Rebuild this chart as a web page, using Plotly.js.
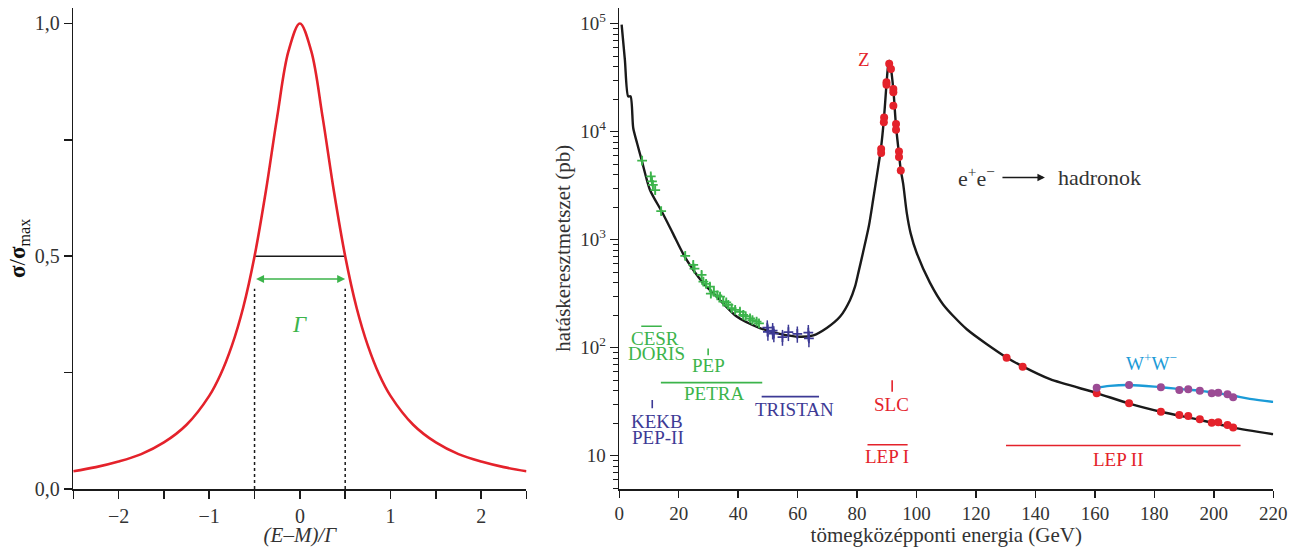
<!DOCTYPE html>
<html>
<head>
<meta charset="utf-8">
<script src="https://cdn.plot.ly/plotly-3.0.1.min.js"></script>
<style>html,body{margin:0;padding:0;background:#fff;}#chart{width:1292px;height:547px;}</style>
</head>
<body>
<div id="chart"></div>
<script>
// ---------- Left panel: Breit–Wigner resonance shape ----------
const bwX = [-2.5,-2.25,-2,-1.75,-1.5,-1.25,-1,-0.875,-0.75,-0.625,-0.5,-0.375,-0.25,-0.125,0,0.125,0.25,0.375,0.5,0.625,0.75,0.875,1,1.25,1.5,1.75,2,2.25,2.5];
const bwY = [0.038,0.047,0.059,0.075,0.100,0.138,0.200,0.246,0.308,0.390,0.500,0.640,0.800,0.941,1.000,0.941,0.800,0.640,0.500,0.390,0.308,0.246,0.200,0.138,0.100,0.075,0.059,0.047,0.038];
const halfMaxX = [-0.5, 0.5];
const halfMaxY = [0.5, 0.5];
const dropTop = 0.43;
const leftTickVals = [-2,-1,0,1,2];
const leftTickText = ['−2','−1','0','1','2'];
const leftMinorVals = [-2.5,-1.5,-0.5,0.5,1.5,2.5];
const leftYTickVals = [0,0.5,1];
const leftYTickText = ['0,0','0,5','1,0'];
const leftYMinorVals = [0.25,0.75];

// ---------- Right panel: e+e- -> hadrons cross section ----------
const sigE = [0.8,1.9,3.0,3.8,4.7,6.0,7.5,10.3,14.3,18,22.1,28.3,32.8,39.5,47.3,54,60.8,65.3,69.8,74.3,77.6,79.3,80.4,82,84,85.4,87,88,89,89.9,90.4,90.8,91.3,92.2,93.1,94.1,94.7,95.5,96.7,98,100,104.5,109,116.9,130.3,135.7,144.9,160.6,171.3,182.2,195.3,206.5,220];
const sigV = [98000,46000,21200,21200,10800,7800,5500,2900,1820,1150,690,395,296,194,152,134,126,130,152,194,275,367,490,760,1350,2340,4500,6900,12800,27800,40000,45500,40000,24500,11200,6200,4400,3300,1780,1150,760,400,250,148,81,67,51,38,30.5,25.5,21.4,18.2,15.8];

const wwE = [160.6,165,171.5,182.2,189,195.3,200,206.5,212.1,220];
const wwV = [42.6,44.3,45.1,43.0,41.3,39.9,38.3,35.9,33.5,31.5];

const zE = [90.8,91.4,89.9,89.9,92.2,92.2,92.2,89.1,89.0,93.1,93.1,88.1,88.1,94.1,94.1,94.7];
const zV = [42600,38000,28600,27200,24800,23100,17400,13500,12200,11800,10400,6900,6340,6560,5820,4370];

const lep2E = [130.3,135.7,160.6,171.5,182.2,188.4,191.4,195.3,199.3,201.5,204.6,206.5];
const lep2V = [80.7,66.7,37.8,30.5,25.5,23.8,23.3,21.7,20.2,20.4,19.2,18.2];

const wwPtE = [160.6,171.5,182.2,188.4,191.4,195.3,199.3,201.5,204.6,206.5];
const wwPtV = [42.6,45.1,43.0,40.6,41.1,39.9,37.8,38.3,37.0,34.7];

const lowE = [7.7,10.6,11.0,11.3,12.1,14.1,22.2,24.9,25.3,27.7,28.3,29.2,30.5,30.8,31.8,33.0,33.9,35.0,36.0,36.7,37.8,39.0,40.6,41.7,42.5,44.0,44.8,46.2,47.0];
const lowV = [5400,3850,3460,3220,2880,1840,708,585,540,472,409,390,368,317,330,305,297,267,262,249,232,224,215,201,196,187,180,174,168];
const lowErr = [450,320,290,270,240,150,60,50,46,40,35,33,31,27,28,26,25,23,22,21,20,19,18,17,17,16,15,15,14];

const tristanE = [49.8,50.0,51.6,52.0,54.9,56.9,59.9,63.6,63.8];
const tristanV = [153,140,144,135,125,139,134,138,122];
const tristanErr = [26,24,25,23,21,24,23,24,21];

const rangeNames = ['CESR','PETRA','TRISTAN','LEP I','LEP II'];
const rangeFrom = [7.4,14.0,47.9,83.5,130.1];
const rangeTo = [14.3,48.1,67.2,97.0,209.0];
const rangeLevel = [158,47.4,35.2,12.6,12.4];
const pointNames = ['PEP','KEKB','SLC'];
const pointE = [29.9,11.1,91.8];
const pointLow = [85,27.5,39];
const pointHigh = [98,32.7,50];

const yTickVals = [10,100,1000,10000,100000];
const yTickText = ['10','10<sup>2</sup>','10<sup>3</sup>','10<sup>4</sup>','10<sup>5</sup>'];

// ---------- styling ----------
const FONT = 'Liberation Serif, Times New Roman, serif';
const TXT = '#333333';
const RED = '#e4222b';
const GREEN = '#3cb44b';
const NAVY = '#3d3a95';
const BLUE = '#1b9bd7';
const PURPLE = '#9b4b94';
const BLACK = '#1a1a1a';

const colorOf = {CESR:GREEN, PETRA:GREEN, TRISTAN:NAVY, 'LEP I':RED, 'LEP II':RED, PEP:GREEN, KEKB:NAVY, SLC:RED};

function segTrace(xs0, xs1, ys0, ys1, names, col) {
  const x = [], y = [];
  names.forEach((n, i) => {
    if (colorOf[n] !== col) return;
    x.push(xs0[i], xs1[i], null);
    y.push(ys0[i], ys1[i], null);
  });
  return {x, y, xaxis:'x2', yaxis:'y2', mode:'lines', line:{color:col, width:1.6}, hoverinfo:'skip', connectgaps:false};
}

const traces = [];
// left
traces.push({x: halfMaxX, y: halfMaxY, mode:'lines', line:{color:BLACK, width:1.6}, xaxis:'x', yaxis:'y'});
traces.push({x: [halfMaxX[0], halfMaxX[0], null, halfMaxX[1], halfMaxX[1]], y: [0, dropTop, null, 0, dropTop], mode:'lines', line:{color:BLACK, width:1.5, dash:'dot'}, xaxis:'x', yaxis:'y', connectgaps:false});
traces.push({x: bwX, y: bwY, mode:'lines', line:{color:RED, width:2.6, shape:'spline', smoothing:1}, xaxis:'x', yaxis:'y'});

// right
traces.push({x: sigE, y: sigV, mode:'lines', line:{color:BLACK, width:2.4, shape:'spline', smoothing:0.7}, xaxis:'x2', yaxis:'y2'});
traces.push({x: wwE, y: wwV, mode:'lines', line:{color:BLUE, width:2.4, shape:'spline', smoothing:1}, xaxis:'x2', yaxis:'y2'});
traces.push({x: lowE, y: lowV, mode:'markers', marker:{symbol:'cross-thin', size:7, line:{color:GREEN, width:1.8}, color:GREEN},
  error_y:{type:'data', array: lowErr, color:GREEN, thickness:1.5, width:0}, xaxis:'x2', yaxis:'y2'});
traces.push({x: tristanE, y: tristanV, mode:'markers', marker:{symbol:'cross-thin', size:7, line:{color:NAVY, width:1.8}, color:NAVY},
  error_y:{type:'data', array: tristanErr, color:NAVY, thickness:1.5, width:0}, xaxis:'x2', yaxis:'y2'});
traces.push({x: zE, y: zV, mode:'markers', marker:{color:RED, size:8}, xaxis:'x2', yaxis:'y2'});
traces.push({x: lep2E, y: lep2V, mode:'markers', marker:{color:RED, size:8}, xaxis:'x2', yaxis:'y2'});
traces.push({x: wwPtE, y: wwPtV, mode:'markers', marker:{color:PURPLE, size:8}, xaxis:'x2', yaxis:'y2'});
[GREEN, NAVY, RED].forEach(c => {
  traces.push(segTrace(rangeFrom, rangeTo, rangeLevel, rangeLevel, rangeNames, c));
  traces.push(segTrace(pointE, pointE, pointLow, pointHigh, pointNames, c));
});

// minor ticks on log axis
const minorVals = [];
for (let d = 0; d <= 5; d++) for (let m = 2; m <= 9; m++) minorVals.push(m * Math.pow(10, d));

const axisCommon = {
  showline:true, linecolor:BLACK, linewidth:1.6, ticks:'outside', tickcolor:BLACK, tickwidth:1.5,
  showgrid:false, zeroline:false, tickfont:{family:FONT, size:19, color:TXT}, fixedrange:true
};

function lab(text, x, y, color, size) {
  return {text, x, y, xref:'x2', yref:'y2', showarrow:false, font:{family:FONT, size:size||19, color}, xanchor:'center', yanchor:'middle'};
}

const annotations = [
  // left panel
  {text:'<i>Γ</i>', x:0, y:0.353, xref:'x', yref:'y', showarrow:false, font:{family:FONT, size:23, color:GREEN}},
  {text:'', x:halfMaxX[1], y:0.451, ax:halfMaxX[0], ay:0.451, xref:'x', yref:'y', axref:'x', ayref:'y',
   showarrow:true, arrowhead:2, arrowside:'end+start', arrowsize:1, arrowwidth:1.6, arrowcolor:GREEN, standoff:0, startstandoff:0},
  // right panel labels (log axis: y in log10 units)
  lab('Z', 82.4, 4.667, RED),
  lab('CESR', 12.0, 2.082, GREEN),
  lab('DORIS', 12.6, 1.945, GREEN),
  lab('PEP', 29.9, 1.833, GREEN),
  lab('PETRA', 31.9, 1.577, GREEN),
  lab('TRISTAN', 59.1, 1.423, NAVY),
  lab('KEKB', 12.8, 1.318, NAVY),
  lab('PEP-II', 13.1, 1.172, NAVY),
  lab('SLC', 91.6, 1.47, RED),
  lab('LEP I', 89.9, 0.99, RED),
  lab('LEP II', 167.9, 0.96, RED),
  lab('W<sup>+</sup>W<sup>−</sup>', 179.1, 1.87, BLUE),
  lab('e<sup>+</sup>e<sup>−</sup>', 120.3, 3.58, TXT, 22),
  lab('hadronok', 161.7, 3.58, TXT, 22),
  {text:'', x:143.2, y:3.576, ax:128.4, ay:3.576, xref:'x2', yref:'y2', axref:'x2', ayref:'y2',
   showarrow:true, arrowhead:2, arrowsize:1, arrowwidth:1.5, arrowcolor:BLACK, standoff:0, startstandoff:0}
];

const layout = {
  width:1292, height:547, margin:{l:0, r:0, t:0, b:0}, paper_bgcolor:'#fff', plot_bgcolor:'rgba(0,0,0,0)',
  showlegend:false, font:{family:FONT, color:TXT},
  xaxis: Object.assign({}, axisCommon, {domain:[0.0567,0.4075], range:[-2.5,2.5], anchor:'y', tickmode:'array',
    tickvals:leftTickVals, ticktext:leftTickText, ticklen:8, tickfont:{family:FONT, size:20, color:TXT},
    minor:{tickmode:'array', tickvals:leftMinorVals, ticks:'outside', ticklen:8, tickwidth:1.5, tickcolor:BLACK, showgrid:false},
    title:{text:'<i>(E–M)/Γ</i>', font:{family:FONT, size:21, color:TXT}, standoff:4}}),
  yaxis: Object.assign({}, axisCommon, {domain:[0.106,0.986], range:[0,1.034], anchor:'x', tickmode:'array',
    tickvals:leftYTickVals, ticktext:leftYTickText, ticklen:8, tickfont:{family:FONT, size:20, color:TXT},
    minor:{tickmode:'array', tickvals:leftYMinorVals, ticks:'outside', ticklen:8, tickwidth:1.5, tickcolor:BLACK, showgrid:false},
    title:{text:'<b>σ</b>/<b>σ</b><sub>max</sub>', font:{family:FONT, size:23, color:'#111'}, standoff:2}}),
  xaxis2: Object.assign({}, axisCommon, {domain:[0.4793,0.9855], range:[0,220], anchor:'y2', tickmode:'linear', tick0:0, dtick:20, ticklen:7,
    title:{text:'tömegközépponti energia (GeV)', font:{family:FONT, size:21, color:TXT}, standoff:4}}),
  yaxis2: Object.assign({}, axisCommon, {domain:[0.106,0.986], type:'log', range:[0.691,5.148], anchor:'x2', tickmode:'array',
    tickvals:yTickVals, ticktext:yTickText, ticklen:8,
    minor:{tickmode:'array', tickvals:minorVals, ticks:'outside', ticklen:4.5, tickwidth:1.2, tickcolor:BLACK, showgrid:false},
    title:{text:'hatáskeresztmetszet (pb)', font:{family:FONT, size:21, color:TXT}, standoff:4}}),
  annotations
};

Plotly.newPlot('chart', traces, layout, {displayModeBar:false, staticPlot:true});
</script>
</body>
</html>
